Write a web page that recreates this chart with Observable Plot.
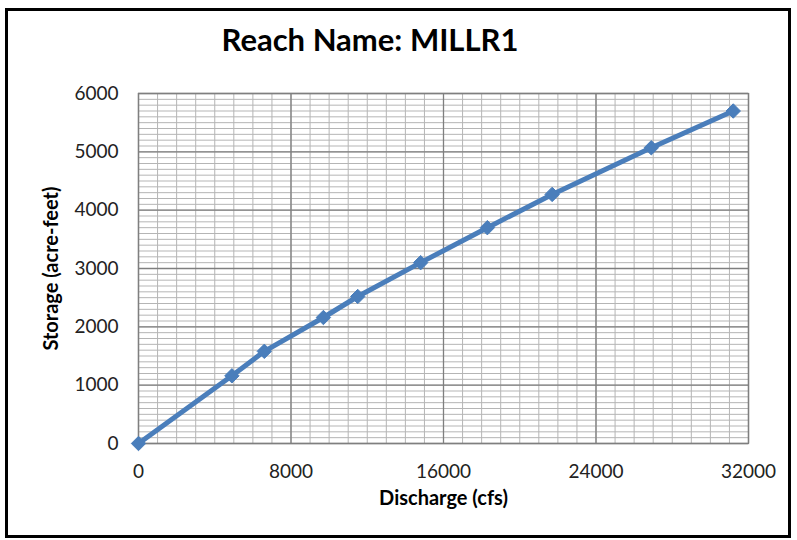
<!DOCTYPE html>
<html>
<head>
<meta charset="utf-8">
<script src="https://cdn.jsdelivr.net/npm/d3@7"></script>
<script src="https://cdn.jsdelivr.net/npm/@observablehq/plot@0.6"></script>
<style>
  html, body { margin: 0; padding: 0; background: #fff; }
  #wrap { position: relative; width: 797px; height: 540px; overflow: hidden; }
  #frame { position: absolute; left: 5px; top: 8px; width: 786px; height: 530px; box-sizing: border-box; border: 3px solid #000; pointer-events: none; }
  #title { position: absolute; left: 0; width: 740px; top: 20px; text-align: center; font-family: Lato, "Open Sans", sans-serif; font-weight: 700; font-size: 31px; color: #000; }
  #chart { position: absolute; left: 0; top: 0; }
</style>
</head>
<body>
<div id="wrap">
  <div id="chart"></div>
  <div id="title">Reach Name: MILLR1</div>
  <div id="frame"></div>
</div>
<script>
const discharge = [0, 4900, 6600, 9700, 11500, 14800, 18300, 21700, 26900, 31200];
const storage   = [0, 1160, 1580, 2160, 2520, 3100, 3700, 4270, 5070, 5700];
const xTicks = [0, 8000, 16000, 24000, 32000];
const yTicks = [0, 1000, 2000, 3000, 4000, 5000, 6000];
const xMinor = d3.range(0, 32001, 1000);
const yMinor = d3.range(0, 6001, 100);
const xTitle = "Discharge (cfs)";
const yTitle = "Storage (acre-feet)";

const data = discharge.map((d, i) => ({x: d, y: storage[i]}));
const blue = "#4A7EBB";

const chart = Plot.plot({
  width: 797,
  height: 540,
  marginLeft: 138,
  marginRight: 49,
  marginTop: 93,
  marginBottom: 97,
  style: {fontFamily: "Lato, 'Open Sans', sans-serif", fontSize: "19px", color: "#222", background: "transparent"},
  x: {domain: [0, 32000], ticks: xTicks},
  y: {domain: [0, 6000], ticks: yTicks},
  marks: [
    Plot.gridY(yMinor, {stroke: "#b5b5b5", strokeOpacity: 1, strokeWidth: 1}),
    Plot.gridX(xMinor, {stroke: "#b5b5b5", strokeOpacity: 1, strokeWidth: 1}),
    Plot.gridY(yTicks, {stroke: "#7f7f7f", strokeOpacity: 1, strokeWidth: 1.3}),
    Plot.gridX(xTicks, {stroke: "#7f7f7f", strokeOpacity: 1, strokeWidth: 1.3}),
    Plot.frame({stroke: "#7f7f7f", strokeWidth: 1.3}),
    Plot.axisX(xTicks, {tickSize: 0, tickPadding: 21, label: null, tickFormat: d => String(d), fontSize: 19}),
    Plot.axisY(yTicks, {tickSize: 0, tickPadding: 20, label: null, tickFormat: d => String(d), fontSize: 19}),
    Plot.text([xTitle], {frameAnchor: "bottom", dy: 61, fontWeight: "bold", fontSize: 20, fill: "#000"}),
    Plot.text([yTitle], {frameAnchor: "left", textAnchor: "middle", dx: -87, rotate: -90, fontWeight: "bold", fontSize: 20, fill: "#000"}),
    Plot.line(data, {x: "x", y: "y", stroke: blue, strokeWidth: 5, curve: "linear"}),
    Plot.dot(data, {x: "x", y: "y", symbol: "diamond2", r: 6.5, fill: blue, stroke: blue, strokeWidth: 1})
  ]
});
document.getElementById("chart").appendChild(chart);
</script>
</body>
</html>
